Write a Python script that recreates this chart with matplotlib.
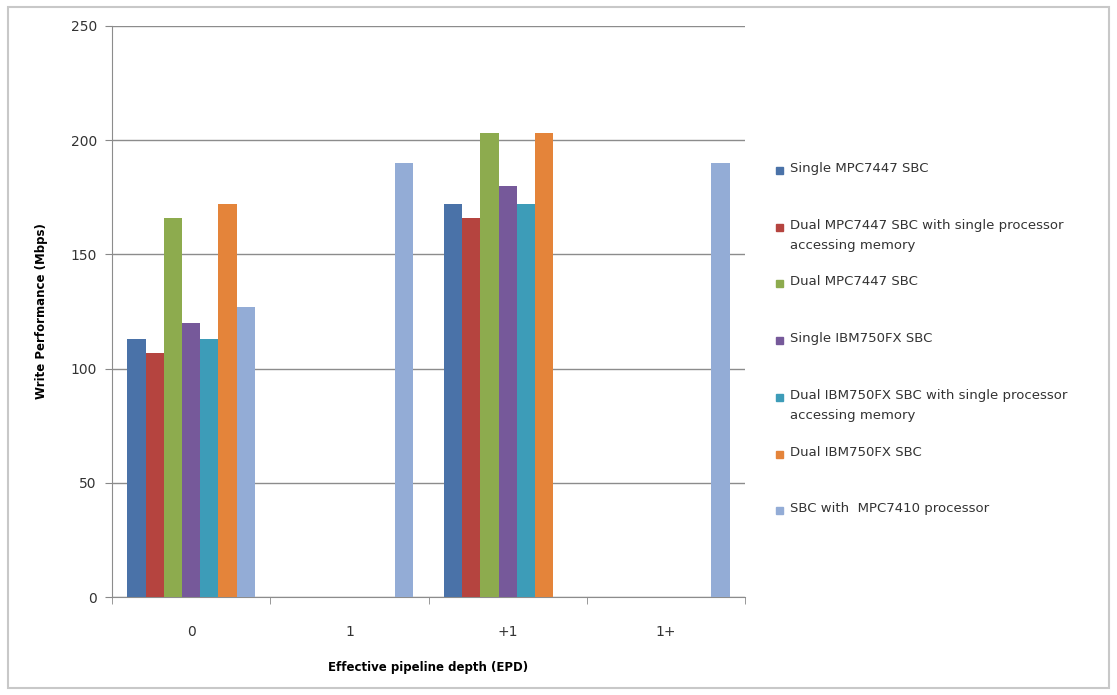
import matplotlib
matplotlib.use("Agg")
import matplotlib.pyplot as plt
from matplotlib.patches import Rectangle
import numpy as np

categories = ["0", "1", "+1", "1+"]
series_names = [
    "Single MPC7447 SBC",
    "Dual MPC7447 SBC with single processor\naccessing memory",
    "Dual MPC7447 SBC",
    "Single IBM750FX SBC",
    "Dual IBM750FX SBC with single processor\naccessing memory",
    "Dual IBM750FX SBC",
    "SBC with  MPC7410 processor",
]
nan = np.nan
single_mpc7447 = [113, nan, 172, nan]
dual_mpc7447_single = [107, nan, 166, nan]
dual_mpc7447 = [166, nan, 203, nan]
single_ibm750 = [120, nan, 180, nan]
dual_ibm750_single = [113, nan, 172, nan]
dual_ibm750 = [172, nan, 203, nan]
mpc7410 = [127, 190, nan, 190]
values = [single_mpc7447, dual_mpc7447_single, dual_mpc7447, single_ibm750,
          dual_ibm750_single, dual_ibm750, mpc7410]
colors = ["#4a72a8", "#b5443f", "#8dab4e", "#76599a", "#3d9cb8", "#e4843a", "#93acd6"]

fig = plt.figure(figsize=(11.17, 6.95), dpi=100)
ax = fig.add_axes([0.1003, 0.141, 0.5667, 0.8216])

x = np.arange(len(categories))
w = 1 / 8.7
for k, (vals, c) in enumerate(zip(values, colors)):
    ax.bar(x + (k - 3) * w, vals, width=w, color=c, zorder=3)

ax.set_xlim(-0.5, len(categories) - 0.5)
ax.set_ylim(0, 250)
ax.set_yticks(range(0, 251, 50))
ax.set_xticks(x)
ax.set_xticklabels(categories, fontsize=10, color="#333333")
ax.set_xticks(np.arange(-0.5, len(categories), 1), minor=True)
ax.tick_params(axis="x", which="major", length=0, pad=20)
ax.tick_params(axis="x", which="minor", length=5, color="#888888")
ax.tick_params(axis="y", length=5, color="#888888", labelsize=10, labelcolor="#333333", pad=6)
ax.yaxis.grid(True, color="#8c8c8c", linewidth=1, zorder=0)
for s in ["top", "right"]:
    ax.spines[s].set_visible(False)
for s in ["left", "bottom"]:
    ax.spines[s].set_color("#8c8c8c")
ax.set_ylabel("Write Performance (Mbps)", fontsize=8.5, fontweight="bold", labelpad=16)
ax.set_xlabel("Effective pipeline depth (EPD)", fontsize=8.5, fontweight="bold", labelpad=16)

# legend, equally spaced slots like Excel
for k, (name, c) in enumerate(zip(series_names, colors)):
    y = 1 - (170 + k * 56.7) / 695
    fig.patches.append(Rectangle((776 / 1117, y - 4 / 695), 7 / 1117, 7 / 695,
                                 transform=fig.transFigure, color=c))
    fig.text(790 / 1117, y + 8 / 695, name, fontsize=9.5, va="top", color="#333333",
             linespacing=1.7)

fig.patches.append(Rectangle((8 / 1117, 7 / 695), 1101 / 1117, 681 / 695,
                             transform=fig.transFigure, fill=False,
                             edgecolor="#c8c8c8", linewidth=1.5))

fig.savefig("out.png", dpi=100)
